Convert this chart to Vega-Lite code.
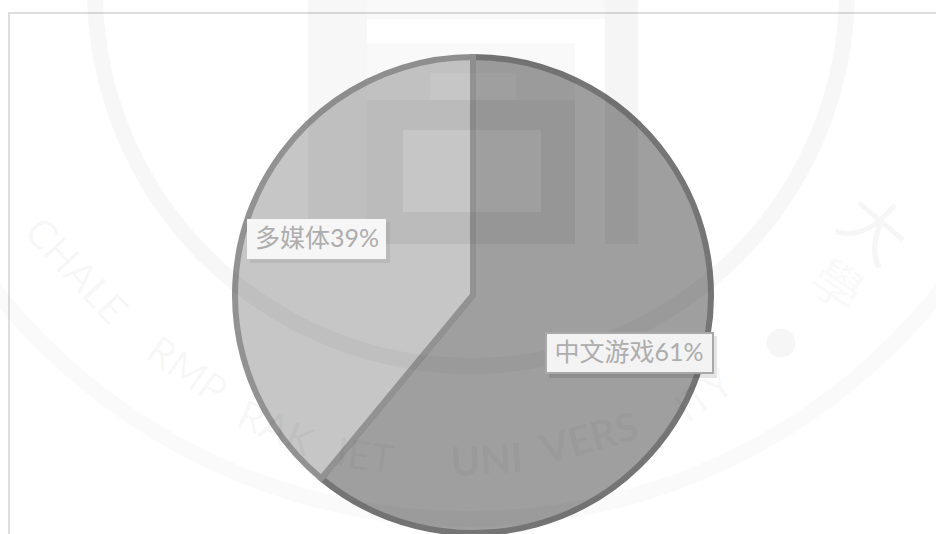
{
  "$schema": "https://vega.github.io/schema/vega-lite/v6.json",
  "width": 936,
  "height": 534,
  "padding": 0,
  "autosize": {"type": "none"},
  "background": "white",
  "config": {"view": {"stroke": null}},
  "datasets": {
    "slices": [
      {"category": "中文游戏", "share": 61, "label": "中文游戏61%"},
      {"category": "多媒体", "share": 39, "label": "多媒体39%"}
    ],
    "mark": [{"part": "watermark"}]
  },
  "data": {"name": "slices"},
  "resolve": {"scale": {"x": "shared", "y": "shared"}},
  "layer": [
    {
      "data": {"name": "mark"},
      "mark": {"type": "rect", "fill": null, "stroke": "#dedede", "strokeWidth": 2},
      "encoding": {
        "x": {"datum": 9, "type": "quantitative", "scale": {"domain": [0, 936], "nice": false, "zero": false}, "axis": null},
        "x2": {"datum": 950},
        "y": {"datum": 13, "type": "quantitative", "scale": {"domain": [0, 534], "reverse": true, "nice": false, "zero": false}, "axis": null},
        "y2": {"datum": 545}
      }
    },
    {
      "mark": {"type": "arc", "outerRadius": 238, "strokeWidth": 6, "strokeJoin": "miter"},
      "encoding": {
        "x": {"datum": 473, "type": "quantitative"},
        "y": {"datum": 295, "type": "quantitative"},
        "theta": {"field": "share", "type": "quantitative", "stack": true, "scale": {"domain": [0, 100], "range": [0, 6.2832]}},
        "order": {"field": "share", "sort": "descending"},
        "fill": {"field": "category", "type": "nominal", "legend": null, "scale": {"domain": ["中文游戏", "多媒体"], "range": ["#9f9f9f", "#c6c6c6"]}},
        "stroke": {"field": "category", "type": "nominal", "legend": null, "scale": {"domain": ["中文游戏", "多媒体"], "range": ["#757575", "#929292"]}}
      }
    },
    {
      "data": {"name": "mark"},
      "layer": [
        {"mark": {"type": "arc", "theta": 0, "theta2": 6.2832, "innerRadius": 368, "outerRadius": 384, "fill": "#000", "fillOpacity": 0.03},
         "encoding": {"x": {"datum": 471, "type": "quantitative"}, "y": {"datum": -10, "type": "quantitative"}}},
        {"mark": {"type": "arc", "theta": 0, "theta2": 6.2832, "innerRadius": 596, "outerRadius": 612, "fill": "#000", "fillOpacity": 0.018},
         "encoding": {"x": {"datum": 468, "type": "quantitative"}, "y": {"datum": -85, "type": "quantitative"}}},
        {"mark": {"type": "rect", "fill": "#000", "fillOpacity": 0.03}, "encoding": {"x": {"datum": 308, "type": "quantitative"}, "x2": {"datum": 367}, "y": {"datum": 0, "type": "quantitative"}, "y2": {"datum": 244}}},
        {"mark": {"type": "rect", "fill": "#000", "fillOpacity": 0.04}, "encoding": {"x": {"datum": 605, "type": "quantitative"}, "x2": {"datum": 638}, "y": {"datum": 0, "type": "quantitative"}, "y2": {"datum": 244}}},
        {"mark": {"type": "rect", "fill": "#000", "fillOpacity": 0.05}, "encoding": {"x": {"datum": 367, "type": "quantitative"}, "x2": {"datum": 575}, "y": {"datum": 100, "type": "quantitative"}, "y2": {"datum": 130}}},
        {"mark": {"type": "rect", "fill": "#000", "fillOpacity": 0.05}, "encoding": {"x": {"datum": 367, "type": "quantitative"}, "x2": {"datum": 575}, "y": {"datum": 212, "type": "quantitative"}, "y2": {"datum": 244}}},
        {"mark": {"type": "rect", "fill": "#000", "fillOpacity": 0.05}, "encoding": {"x": {"datum": 367, "type": "quantitative"}, "x2": {"datum": 403}, "y": {"datum": 130, "type": "quantitative"}, "y2": {"datum": 212}}},
        {"mark": {"type": "rect", "fill": "#000", "fillOpacity": 0.05}, "encoding": {"x": {"datum": 541, "type": "quantitative"}, "x2": {"datum": 575}, "y": {"datum": 130, "type": "quantitative"}, "y2": {"datum": 212}}},
        {"mark": {"type": "rect", "fill": "#000", "fillOpacity": 0.025}, "encoding": {"x": {"datum": 367, "type": "quantitative"}, "x2": {"datum": 430}, "y": {"datum": 43, "type": "quantitative"}, "y2": {"datum": 100}}},
        {"mark": {"type": "rect", "fill": "#000", "fillOpacity": 0.025}, "encoding": {"x": {"datum": 516, "type": "quantitative"}, "x2": {"datum": 575}, "y": {"datum": 43, "type": "quantitative"}, "y2": {"datum": 100}}},
        {"mark": {"type": "rect", "fill": "#000", "fillOpacity": 0.025}, "encoding": {"x": {"datum": 430, "type": "quantitative"}, "x2": {"datum": 516}, "y": {"datum": 43, "type": "quantitative"}, "y2": {"datum": 73}}},
        {"mark": {"type": "rect", "fill": "#000", "fillOpacity": 0.025}, "encoding": {"x": {"datum": 367, "type": "quantitative"}, "x2": {"datum": 605}, "y": {"datum": 0, "type": "quantitative"}, "y2": {"datum": 19}}},
        {"mark": {"type": "text", "text": "CHALE", "font": "Lato", "fontSize": 40, "fill": "#000", "fillOpacity": 0.035, "angle": 47, "align": "center", "baseline": "middle"}, "encoding": {"x": {"datum": 75, "type": "quantitative"}, "y": {"datum": 272, "type": "quantitative"}}},
        {"mark": {"type": "text", "text": "RMP", "font": "Lato", "fontSize": 40, "fill": "#000", "fillOpacity": 0.035, "angle": 35, "align": "center", "baseline": "middle"}, "encoding": {"x": {"datum": 186, "type": "quantitative"}, "y": {"datum": 372, "type": "quantitative"}}},
        {"mark": {"type": "text", "text": "RAK", "font": "Lato", "fontSize": 40, "fill": "#000", "fillOpacity": 0.04, "angle": 24, "align": "center", "baseline": "middle"}, "encoding": {"x": {"datum": 275, "type": "quantitative"}, "y": {"datum": 430, "type": "quantitative"}}},
        {"mark": {"type": "text", "text": "IET", "font": "Lato", "fontSize": 40, "fill": "#000", "fillOpacity": 0.05, "angle": 8, "align": "center", "baseline": "middle"}, "encoding": {"x": {"datum": 365, "type": "quantitative"}, "y": {"datum": 458, "type": "quantitative"}}},
        {"mark": {"type": "text", "text": "UNI", "font": "Lato", "fontWeight": "bold", "fontSize": 40, "fill": "#000", "fillOpacity": 0.05, "angle": -4, "align": "center", "baseline": "middle"}, "encoding": {"x": {"datum": 487, "type": "quantitative"}, "y": {"datum": 462, "type": "quantitative"}}},
        {"mark": {"type": "text", "text": "VERS", "font": "Lato", "fontWeight": "bold", "fontSize": 40, "fill": "#000", "fillOpacity": 0.05, "angle": -15, "align": "center", "baseline": "middle"}, "encoding": {"x": {"datum": 590, "type": "quantitative"}, "y": {"datum": 440, "type": "quantitative"}}},
        {"mark": {"type": "text", "text": "ITY", "font": "Lato", "fontSize": 40, "fill": "#000", "fillOpacity": 0.035, "angle": -35, "align": "center", "baseline": "middle"}, "encoding": {"x": {"datum": 705, "type": "quantitative"}, "y": {"datum": 397, "type": "quantitative"}}},
        {"mark": {"type": "text", "text": "大", "font": "Noto Sans CJK SC", "fontSize": 66, "fill": "#000", "fillOpacity": 0.035, "angle": 40, "align": "center", "baseline": "middle"}, "encoding": {"x": {"datum": 872, "type": "quantitative"}, "y": {"datum": 232, "type": "quantitative"}}},
        {"mark": {"type": "text", "text": "學", "font": "Noto Sans CJK TC", "fontSize": 50, "fill": "#000", "fillOpacity": 0.025, "angle": 35, "align": "center", "baseline": "middle"}, "encoding": {"x": {"datum": 835, "type": "quantitative"}, "y": {"datum": 288, "type": "quantitative"}}},
        {"mark": {"type": "point", "shape": "circle", "filled": true, "size": 850, "fill": "#000", "fillOpacity": 0.035, "stroke": null}, "encoding": {"x": {"datum": 781, "type": "quantitative"}, "y": {"datum": 343, "type": "quantitative"}}}
      ]
    },
    {
      "transform": [{"filter": "datum.share === 39"}],
      "layer": [
        {"mark": {"type": "rect", "fill": "#000000", "fillOpacity": 0.06}, "encoding": {"x": {"datum": 250, "type": "quantitative"}, "x2": {"datum": 390}, "y": {"datum": 222, "type": "quantitative"}, "y2": {"datum": 263}}},
        {"mark": {"type": "rect", "fill": "#f6f6f6"}, "encoding": {"x": {"datum": 247, "type": "quantitative"}, "x2": {"datum": 386}, "y": {"datum": 219, "type": "quantitative"}, "y2": {"datum": 259}}},
        {"mark": {"type": "text", "font": "Lato, Noto Sans CJK SC", "fontSize": 25, "color": "#adadad", "align": "center", "baseline": "middle"},
         "encoding": {"x": {"datum": 317, "type": "quantitative"}, "y": {"datum": 239, "type": "quantitative"}, "text": {"field": "label"}}}
      ]
    },
    {
      "transform": [{"filter": "datum.share === 61"}],
      "layer": [
        {"mark": {"type": "rect", "fill": "#000000", "fillOpacity": 0.1}, "encoding": {"x": {"datum": 549, "type": "quantitative"}, "x2": {"datum": 717}, "y": {"datum": 336, "type": "quantitative"}, "y2": {"datum": 378}}},
        {"mark": {"type": "rect", "fill": "#f3f3f3", "stroke": "#a8a8a8", "strokeWidth": 2}, "encoding": {"x": {"datum": 546, "type": "quantitative"}, "x2": {"datum": 713}, "y": {"datum": 333, "type": "quantitative"}, "y2": {"datum": 373}}},
        {"mark": {"type": "text", "font": "Lato, Noto Sans CJK SC", "fontSize": 25, "color": "#adadad", "align": "center", "baseline": "middle"},
         "encoding": {"x": {"datum": 629, "type": "quantitative"}, "y": {"datum": 353, "type": "quantitative"}, "text": {"field": "label"}}}
      ]
    }
  ]
}
